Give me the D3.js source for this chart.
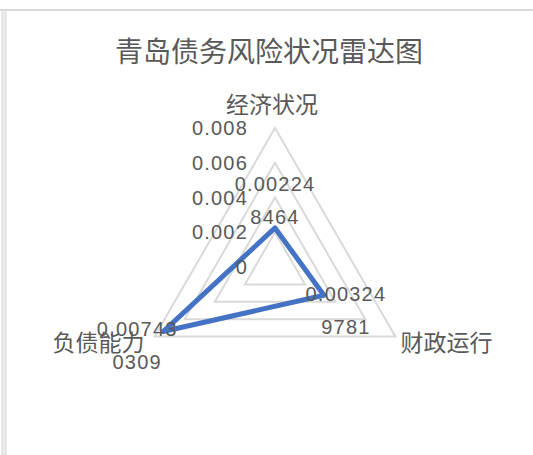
<!DOCTYPE html>
<html><head><meta charset="utf-8">
<script src="https://cdn.jsdelivr.net/npm/d3@7"></script>
<style>html,body{margin:0;padding:0;background:#fff;}svg{display:block;}</style>
</head><body>
<svg id="c" width="533" height="455"></svg>
<script>
const title = "青岛债务风险状况雷达图";
const categories = ["经济状况", "财政运行", "负债能力"];
const values = [0.002248464, 0.003249781, 0.007430309];
const tickValues = [0, 0.002, 0.004, 0.006, 0.008];
const tickLabels = ["0", "0.002", "0.004", "0.006", "0.008"];

const svg = d3.select("#c");
const W = 533, H = 455;
const cx = 275, cy = 267, R = 139;
const txt = "#595959", grid = "#d9d9d9", lineCol = "#4472C4";
const cjk = "'Noto Sans CJK SC', sans-serif";
const num = "'Liberation Sans', Arial, sans-serif";

// frame
svg.append("line").attr("x1", 0).attr("x2", W).attr("y1", 10).attr("y2", 10)
  .attr("stroke", "#dadada").attr("stroke-width", 2);
svg.append("rect").attr("x", 2).attr("y", 10).attr("width", 4).attr("height", H - 10)
  .attr("fill", "#ececec").attr("stroke", "#d6d6d6").attr("stroke-width", 1);

const r = d3.scaleLinear().domain([0, 0.008]).range([0, R]);
const n = categories.length;
const ang = d3.scaleLinear().domain([0, n]).range([0, 2 * Math.PI]);
const pt = (i, v) => [cx + r(v) * Math.sin(ang(i)), cy - r(v) * Math.cos(ang(i))];

// title
svg.append("text").attr("x", 269).attr("y", 50).attr("text-anchor", "middle")
  .attr("dominant-baseline", "central").attr("font-family", cjk).attr("font-size", 28)
  .attr("fill", txt).text(title);

// grid triangles
tickValues.filter(t => t > 0).forEach(t => {
  const pts = d3.range(n).map(i => pt(i, t));
  svg.append("path").attr("d", d3.line()(pts) + "Z").attr("fill", "none")
    .attr("stroke", grid).attr("stroke-width", 2);
});

// data line
const dpts = values.map((v, i) => pt(i, v));
svg.append("path").attr("d", d3.line()(dpts) + "Z").attr("fill", "none")
  .attr("stroke", lineCol).attr("stroke-width", 5).attr("stroke-linejoin", "round");

// tick labels
tickValues.forEach((t, k) => {
  svg.append("text").attr("x", cx - 27).attr("y", cy - r(t))
    .attr("text-anchor", "end").attr("dominant-baseline", "central")
    .attr("font-family", num).attr("font-size", 20).attr("letter-spacing", 1.2)
    .attr("fill", txt).text(tickLabels[k]);
});

// category labels
const catOff = [[-3, -25, "middle"], [5, 4, "start"], [-10, 4, "end"]];
categories.forEach((c, i) => {
  const [x, y] = pt(i, 0.008);
  svg.append("text").attr("x", x + catOff[i][0]).attr("y", y + catOff[i][1])
    .attr("text-anchor", catOff[i][2]).attr("dominant-baseline", "central")
    .attr("font-family", cjk).attr("font-size", 23).attr("fill", txt).text(c);
});

// data labels (wrapped as in the reference)
const labOff = [[0, -43.5], [22, -1.5], [-26, -3]];
values.forEach((v, i) => {
  const s = String(v);
  const lines = [s.slice(0, 7), s.slice(7)];
  const [x, y] = pt(i, v);
  lines.forEach((l, j) => {
    svg.append("text").attr("x", x + labOff[i][0]).attr("y", y + labOff[i][1] + j * 33)
      .attr("text-anchor", "middle").attr("dominant-baseline", "central")
      .attr("font-family", num).attr("font-size", 20).attr("letter-spacing", 1.2)
      .attr("fill", txt).text(l);
  });
});
</script>
</body></html>
